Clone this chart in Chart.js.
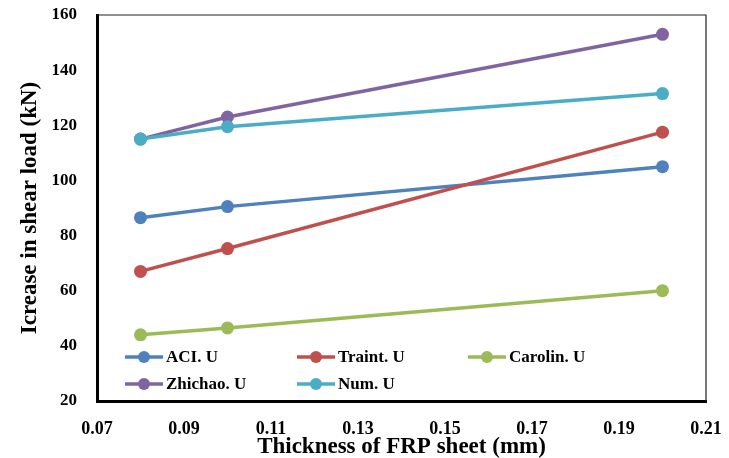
<!DOCTYPE html>
<html lang="en">
<head>
  <meta charset="UTF-8" />
  <title>Increase in shear load vs FRP thickness</title>
  <script src="https://cdn.jsdelivr.net/npm/chart.js"></script>
  <style>
    body { margin: 0; background: #fff; }
    .wrap { width: 729px; height: 458px; position: relative; }
  </style>
</head>
<body>
  <div class="wrap"><canvas id="shearChart" width="729" height="458"></canvas></div>
  <script>
    // Data
    const thickness = [0.08, 0.10, 0.20];
    const seriesNames = ['ACI. U', 'Traint. U', 'Carolin. U', 'Zhichao. U', 'Num. U'];
    const aciU = [86.5, 90.5, 105];
    const traintU = [67, 75.3, 117.5];
    const carolinU = [44, 46.5, 60];
    const zhichaoU = [115, 123, 153];
    const numU = [115, 119.5, 131.5];
    const xTicks = [0.07, 0.09, 0.11, 0.13, 0.15, 0.17, 0.19, 0.21];
    const yTicks = [20, 40, 60, 80, 100, 120, 140, 160];

    const colors = ['#4F81BD', '#C0504D', '#9BBB59', '#8064A2', '#4BACC6'];
    const allSeries = [aciU, traintU, carolinU, zhichaoU, numU];
    const serif = '"Liberation Serif", "Times New Roman", serif';

    const datasets = allSeries.map((vals, i) => ({
      label: seriesNames[i],
      data: thickness.map((t, j) => ({ x: t, y: vals[j] })),
      borderColor: colors[i],
      backgroundColor: colors[i],
      borderWidth: 3.5,
      pointRadius: 6.5,
      pointBorderWidth: 0,
      pointBackgroundColor: colors[i],
      tension: 0,
      clip: false
    }));
    // draw in the order the figure layers them
    datasets.forEach((d, i) => { d.order = 5 - i; });

    // thin frame on top/right plus a two-row legend inside the plot
    const framePlugin = {
      id: 'frame',
      beforeDatasetsDraw(chart) {
        const { ctx, chartArea: a } = chart;
        ctx.save();
        ctx.strokeStyle = '#222';
        ctx.lineWidth = 1.2;
        ctx.beginPath();
        ctx.moveTo(a.left, a.top);
        ctx.lineTo(a.right, a.top);
        ctx.lineTo(a.right, a.bottom);
        ctx.stroke();
        ctx.restore();
      },
      afterDraw(chart) {
        const { ctx, chartArea: a } = chart;
        const cols = [28, 200, 371];
        const rows = [a.bottom - 44, a.bottom - 17];
        ctx.save();
        ctx.font = 'bold 17px ' + serif;
        ctx.textBaseline = 'middle';
        chart.data.datasets.forEach((d, i) => {
          const x = a.left + cols[i % 3];
          const y = rows[Math.floor(i / 3)];
          ctx.strokeStyle = d.borderColor;
          ctx.lineWidth = 3.5;
          ctx.beginPath();
          ctx.moveTo(x, y);
          ctx.lineTo(x + 38, y);
          ctx.stroke();
          ctx.fillStyle = d.borderColor;
          ctx.beginPath();
          ctx.arc(x + 19, y, 6, 0, Math.PI * 2);
          ctx.fill();
          ctx.fillStyle = '#000';
          ctx.fillText(d.label, x + 41, y + 1);
        });
        ctx.restore();
      }
    };

    new Chart(document.getElementById('shearChart'), {
      type: 'line',
      data: { datasets },
      plugins: [framePlugin],
      options: {
        responsive: false,
        animation: false,
        layout: { padding: { left: 0, right: 23, top: 15, bottom: 0 } },
        plugins: {
          legend: { display: false },
          tooltip: { enabled: false }
        },
        scales: {
          x: {
            type: 'linear',
            min: 0.07,
            max: 0.21,
            afterBuildTicks: s => { s.ticks = xTicks.map(v => ({ value: v })); },
            afterFit: s => { s.height = 57; s.paddingLeft = 0; s.paddingRight = 0; },
            grid: { display: false, drawTicks: false },
            border: { color: '#000', width: 3 },
            ticks: {
              padding: 18,
              color: '#000',
              font: { family: serif, size: 18, weight: 'bold' },
              callback: v => v.toFixed(2)
            },
            title: {
              display: true,
              text: 'Thickness of FRP sheet (mm)',
              color: '#000',
              font: { family: serif, size: 23, weight: 'bold', lineHeight: 1 },
              padding: { top: 0, bottom: -1 }
            }
          },
          y: {
            min: 20,
            max: 160,
            afterBuildTicks: s => { s.ticks = yTicks.map(v => ({ value: v })); },
            afterFit: s => { s.width = 97; s.paddingTop = 0; s.paddingBottom = 0; },
            grid: { display: false, drawTicks: false },
            border: { color: '#000', width: 3 },
            ticks: {
              padding: 20,
              color: '#000',
              font: { family: serif, size: 17, weight: 'bold' }
            },
            title: {
              display: true,
              text: 'Icrease in shear load (kN)',
              color: '#000',
              font: { family: serif, size: 23, weight: 'bold', lineHeight: 1 },
              padding: { top: 19, bottom: 0 }
            }
          }
        }
      }
    });
  </script>
</body>
</html>
